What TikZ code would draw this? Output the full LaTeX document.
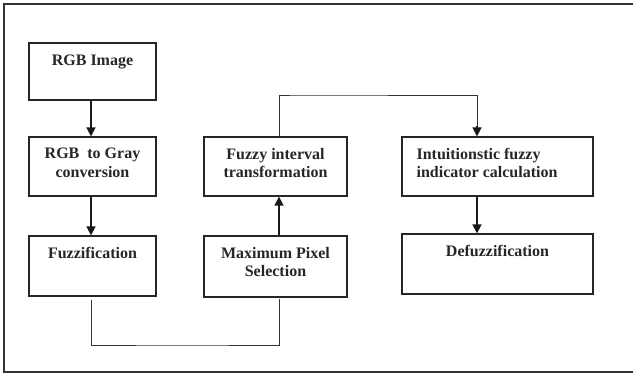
\documentclass[tikz,border=0pt]{standalone}
\usepackage{fontspec}
\setmainfont{Liberation Serif}
\usetikzlibrary{arrows.meta}
\tikzset{
  box/.style={draw=black!85, line width=1.2pt, inner sep=0pt},
  txt/.style={font=\bfseries\fontsize{16}{18.5}\selectfont, inner sep=0pt, align=center, text=black!85},
  arr/.style={draw=black!90, line width=1.4pt, -{Triangle[length=9pt,width=9pt]}},
  link/.style={draw=black!80, line width=1pt},
}
\begin{document}
\begin{tikzpicture}[x=1pt,y=-1pt]
\useasboundingbox (0,0) rectangle (633,376);
\draw[draw=black!80, line width=1.2pt] (633,4) -- (4,4) -- (4,372) -- (633,372);
% boxes
\node[box, minimum width=127pt, minimum height=57pt] (rgb)  at (92.5,71.5) {};
\node[box, minimum width=127pt, minimum height=59pt] (gray) at (92.5,166.5) {};
\node[box, minimum width=127pt, minimum height=60pt] (fuzz) at (92.5,266) {};
\node[box, minimum width=143pt, minimum height=59pt] (fit)  at (275.5,166.5) {};
\node[box, minimum width=143pt, minimum height=61pt] (max)  at (275.5,266.5) {};
\node[box, minimum width=191pt, minimum height=59pt] (intu) at (497.5,166.5) {};
\node[box, minimum width=191pt, minimum height=60pt] (defz) at (497.5,264) {};
% texts
\node[txt, anchor=north] (rgbT)  at ([yshift=-12.5pt]rgb.north) {RGB Image};
\node[txt, anchor=north] (grayT) at ([yshift=-11.5pt]gray.north) {RGB\ \ to Gray\\conversion};
\node[txt, anchor=north] (fuzzT) at ([yshift=-11.5pt]fuzz.north) {Fuzzification};
\node[txt, anchor=north] (fitT)  at ([yshift=-11.5pt]fit.north) {Fuzzy interval\\transformation};
\node[txt, anchor=north] (maxT)  at ([yshift=-11.5pt]max.north) {Maximum Pixel\\Selection};
\node[txt, anchor=north west, align=left] (intuT) at ([xshift=15pt,yshift=-11.5pt]intu.north west) {Intuitionstic fuzzy\\indicator calculation};
\node[txt, anchor=north] (defzT) at ([yshift=-12pt]defz.north) {Defuzzification};
% connectors
\coordinate (topc) at (300,95);
\coordinate (botc) at (180,345);
\draw[arr] ([xshift=-1.5pt]rgb.south) -- ([xshift=-1.5pt]gray.north);
\draw[arr] ([xshift=-1.5pt]gray.south) -- ([xshift=-1.5pt]fuzz.north);
\draw[arr] ([xshift=3.5pt]max.north) -- ([xshift=3.5pt]fit.south);
\draw[arr] ([xshift=-20.5pt]intu.south) -- ([xshift=-20.5pt]defz.north);
\draw[link] ([xshift=3.5pt]fit.north) |- (topc) -| ([xshift=-20.5pt,yshift=10pt]intu.north);
\draw[arr] ([xshift=-20.5pt,yshift=10.7pt]intu.north) -- ([xshift=-20.5pt]intu.north);
\draw[link] ([xshift=-1.5pt,yshift=-3pt]fuzz.south) |- (botc) -| ([xshift=3.5pt,yshift=-1pt]max.south);
\end{tikzpicture}
\end{document}
